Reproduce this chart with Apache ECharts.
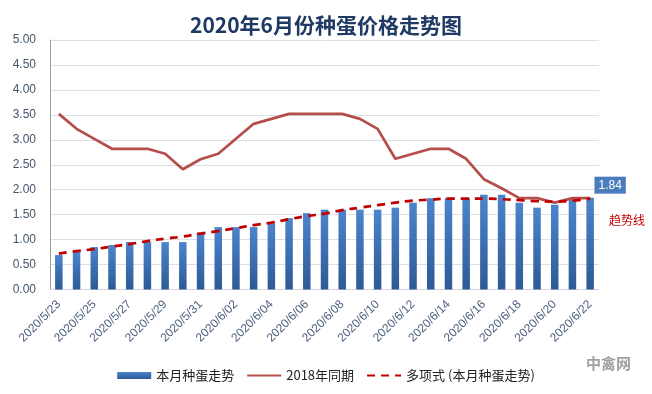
<!DOCTYPE html>
<html><head><meta charset="utf-8">
<script src="https://cdn.jsdelivr.net/npm/echarts@6/dist/echarts.min.js"></script>
<style>html,body{margin:0;padding:0;background:#fff}#c{width:652px;height:394px}</style>
</head><body><div id="c"></div>
<script>
const categories = ["2020/5/23","2020/5/24","2020/5/25","2020/5/26","2020/5/27","2020/5/28","2020/5/29","2020/5/30","2020/5/31",
"2020/6/01","2020/6/02","2020/6/03","2020/6/04","2020/6/05","2020/6/06","2020/6/07","2020/6/08","2020/6/09","2020/6/10",
"2020/6/11","2020/6/12","2020/6/13","2020/6/14","2020/6/15","2020/6/16","2020/6/17","2020/6/18","2020/6/19","2020/6/20","2020/6/21","2020/6/22"];
const thisMonth = [0.69,0.75,0.85,0.89,0.95,0.95,0.95,0.95,1.14,1.25,1.25,1.25,1.33,1.43,1.53,1.60,1.60,1.60,1.60,1.64,1.74,1.83,1.83,1.83,1.90,1.90,1.74,1.64,1.70,1.81,1.84];
const samePeriod2018 = [3.52,3.22,3.02,2.82,2.82,2.82,2.72,2.41,2.61,2.72,3.02,3.32,3.42,3.52,3.52,3.52,3.52,3.42,3.22,2.62,2.72,2.82,2.82,2.62,2.21,2.03,1.83,1.83,1.74,1.83,1.83];
const trend = [0.72,0.77,0.81,0.86,0.91,0.97,1.02,1.06,1.12,1.17,1.23,1.29,1.34,1.41,1.47,1.52,1.59,1.64,1.69,1.74,1.78,1.80,1.82,1.82,1.82,1.81,1.79,1.77,1.76,1.78,1.82];
const yTicks = {min:0, max:5, interval:0.5};
const names = ["本月种蛋走势","2018年同期","多项式 (本月种蛋走势)"];

const chart = echarts.init(document.getElementById('c'), null, {renderer:'canvas'});
const lastIdx = thisMonth.length - 1;
chart.setOption({
  animation:false,
  backgroundColor:'#ffffff',
  title:{
    text:'2020年6月份种蛋价格走势图', left:'center', top:10,
    textStyle:{fontSize:21, fontWeight:'bold', color:'#1F3A64', fontFamily:'"Noto Sans CJK SC", sans-serif'}
  },
  grid:{left:50, right:53, top:40, bottom:104.5, containLabel:false},
  legend:{
    top:364, left:'center', itemGap:12,
    itemWidth:34, itemHeight:7,
    textStyle:{fontSize:13, color:'#222', fontFamily:'"Noto Sans CJK SC", sans-serif'},
    data:[
      {name:names[0], icon:'rect'},
      {name:names[1], itemStyle:{opacity:0}},
      {name:names[2], itemStyle:{opacity:0}}
    ]
  },
  xAxis:{
    type:'category', data:categories,
    axisTick:{show:false},
    axisLine:{lineStyle:{color:'#D0D5DE'}},
    axisLabel:{interval:1, rotate:45, fontSize:12, color:'#4F6282', margin:13, fontFamily:'"Liberation Sans", sans-serif'}
  },
  yAxis:{
    type:'value', min:yTicks.min, max:yTicks.max, interval:yTicks.interval,
    axisLine:{show:true, lineStyle:{color:'#9A9A9A', width:1}},
    axisTick:{show:false},
    splitLine:{lineStyle:{color:'#DCDFE8'}},
    axisLabel:{formatter:v=>v.toFixed(2), fontSize:12, color:'#44546A', margin:14, fontFamily:'"Liberation Sans", sans-serif'}
  },
  series:[
    {
      name:names[0], type:'bar', barWidth:7.5, z:2,
      itemStyle:{color:new echarts.graphic.LinearGradient(0,0,0,1,[{offset:0,color:'#4C84CC'},{offset:1,color:'#2D5A96'}])},
      data:thisMonth.map((v,i)=> i===lastIdx ? {value:v, label:{show:true, position:'top', distance:4, offset:[20,0],
        formatter:p=>p.value.toFixed(2), color:'#fff', backgroundColor:'#4B7DBD', padding:[3,4,2,4], fontSize:12,
        fontFamily:'"Liberation Sans", sans-serif'}} : v)
    },
    {
      name:names[1], type:'line', symbol:'none', z:3,
      lineStyle:{color:'#B54E4A', width:2.7},
      itemStyle:{color:'#B54E4A'},
      data:samePeriod2018
    },
    {
      name:names[2], type:'line', symbol:'none', smooth:true, z:4,
      lineStyle:{color:'#C00000', width:2.7, type:[8,6]},
      itemStyle:{color:'#C00000'},
      data:trend
    }
  ],
  graphic:[
    {type:'text', left:609, top:214, style:{text:'趋势线', fill:'#C00000', fontSize:12, fontFamily:'"Noto Sans CJK SC", sans-serif'}},
    {type:'text', left:586, top:356, style:{text:'中禽网', fill:'#A0A0A0', fontSize:15, fontWeight:'bold', fontFamily:'"Noto Sans CJK SC", sans-serif'}}
  ]
});
</script>
</body></html>
